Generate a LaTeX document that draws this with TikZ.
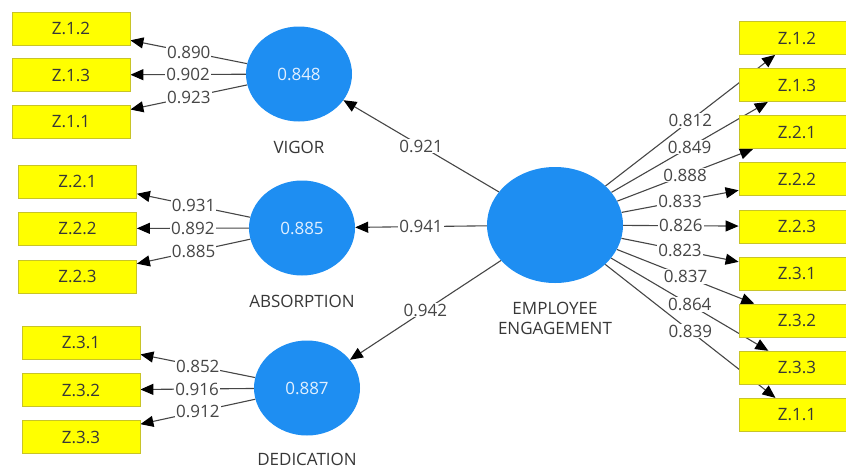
\documentclass[tikz,border=0pt]{standalone}
\usepackage{fontspec}
\setmainfont{Open Sans}
\usetikzlibrary{arrows.meta,shapes.geometric}
\pgfdeclarelayer{edges}
\pgfdeclarelayer{tags}
\pgfsetlayers{edges,tags,main}
\definecolor{lvblue}{RGB}{30,142,242}
\definecolor{lvtext}{RGB}{226,240,255}
\definecolor{boxyellow}{RGB}{255,255,0}
\definecolor{boxedge}{RGB}{200,196,40}
\definecolor{inktext}{RGB}{55,55,55}
\definecolor{linegray}{RGB}{70,70,70}
\definecolor{taggray}{RGB}{70,70,70}
\begin{document}
\begin{tikzpicture}[x=1pt,y=-1pt,
  every node/.style={font=\fontsize{17}{20}\selectfont},
  latent/.style={ellipse,fill=lvblue,draw=none,inner sep=0pt,text=lvtext,
    minimum width=106pt,minimum height=95pt},
  latentname/.style={inner sep=0pt,text=inktext,align=center},
  indicator/.style={draw=boxedge,line width=0.8pt,fill=boxyellow,text=inktext,
    inner sep=0pt,minimum width=118pt,minimum height=33pt},
  link/.style={draw=linegray,line width=1.1pt,
    -{Triangle[length=13pt,width=11pt,color=black,fill=black]}},
  weight/.style={fill=white,inner sep=1pt,text=taggray}]

\path[use as bounding box,clip] (0,0) rectangle (846,469);

% latent variables
\node[latent] (vig) at (299,74) {0.848};
\node[latentname] at (vig.south) [anchor=north,yshift=-19pt] {VIGOR};
\node[latent] (abs) at (302,228) {0.885};
\node[latentname] at (abs.south) [anchor=north,yshift=-19pt] {ABSORPTION};
\node[latent] (ded) at (307,388) {0.887};
\node[latentname] at (ded.south) [anchor=north,yshift=-17pt] {DEDICATION};
\node[latent,minimum width=136pt,minimum height=116pt] (ee) at (555,225) {};
\node[latentname] at (ee.south) [anchor=north,yshift=-19pt] {EMPLOYEE\\ENGAGEMENT};

% indicators, left side
\node[indicator] (l12) at (71,28.5) {Z.1.2};
\node[indicator] (l13) at (71,75) {Z.1.3};
\node[indicator] (l11) at (71,122) {Z.1.1};
\node[indicator] (l21) at (77.5,181.5) {Z.2.1};
\node[indicator] (l22) at (77.5,228.5) {Z.2.2};
\node[indicator] (l23) at (77.5,276.5) {Z.2.3};
\node[indicator] (l31) at (81,342.5) {Z.3.1};
\node[indicator] (l32) at (81,390) {Z.3.2};
\node[indicator] (l33) at (81,437) {Z.3.3};

% indicators, right side
\foreach \nm/\txt [count=\i from 0] in
  {r12/Z.1.2,r13/Z.1.3,r21/Z.2.1,r22/Z.2.2,r23/Z.2.3,r31/Z.3.1,r32/Z.3.2,r33/Z.3.3,r11/Z.1.1}
  \node[indicator,minimum width=116pt] (\nm) at (797,38+47.1*\i) {\txt};

% connectors and their weights
\def\linklist{vig/l12/0.890,vig/l13/0.902,vig/l11/0.923,
  abs/l21/0.931,abs/l22/0.892,abs/l23/0.885,
  ded/l31/0.852,ded/l32/0.916,ded/l33/0.912,
  ee/vig/0.921,ee/abs/0.941,ee/ded/0.942,
  ee/r12/0.812,ee/r13/0.849,ee/r21/0.888,ee/r22/0.833,ee/r23/0.826,
  ee/r31/0.823,ee/r32/0.837,ee/r33/0.864,ee/r11/0.839}
\begin{pgfonlayer}{edges}
  \foreach \a/\b/\w in \linklist
    \draw[link] (\a) -- (\b);
\end{pgfonlayer}
\begin{pgfonlayer}{tags}
  \foreach \a/\b/\w in \linklist
    \path (\a) -- node[weight] {\w} (\b);
\end{pgfonlayer}
\end{tikzpicture}
\end{document}
